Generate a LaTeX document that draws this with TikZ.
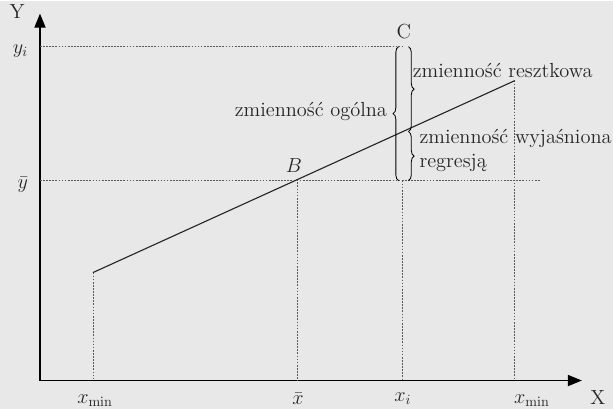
\documentclass[tikz,border=0pt]{standalone}
\usetikzlibrary{arrows.meta, decorations.pathreplacing}
\begin{document}
\begin{tikzpicture}[x=0.025cm, y=-0.025cm,
    axis/.style={{Triangle[length=10pt,width=8pt]}-{Triangle[length=10pt,width=8pt]}, thick},
    guide/.style={dash pattern=on 1.2pt off 1pt, semithick, black!65},
    fitline/.style={thick, black!85},
    vbrace/.style={decorate, decoration={brace, amplitude=4pt}, semithick},
    every node/.style={font=\fontsize{14.5}{17}\selectfont, text=black!85}
  ]
  % paper
  \fill[black!9] (0,0) rectangle (613,408);

  % axes
  \coordinate (O) at (40,380);
  \coordinate (Ytip) at (40,13);
  \coordinate (Xtip) at (582,380);
  \draw[axis] (Ytip) -- (O) -- (Xtip);
  \node (Ylab) at (17,11) {Y};
  \node (Xlab) at (598,397) {X};

  % points on the line and the levels
  \coordinate (P0) at (93,272);
  \coordinate (P1) at (515,80);
  \coordinate (B) at (298,178.7);
  \coordinate (R) at (403,131);
  \coordinate (C) at (403,46);
  \coordinate (Ybar) at (403,180);
  \coordinate (yiA) at (40,46);
  \coordinate (ybA) at (40,180);
  \coordinate (ybE) at (540,180);

  % dotted guides
  \draw[guide] (yiA) -- (C);
  \draw[guide] (ybA) -- (ybE);
  \draw[guide] (P0) -- (P0 |- O);
  \draw[guide] (B) -- (B |- O);
  \draw[guide] (Ybar) -- (Ybar |- O);
  \draw[guide] (P1) -- (P1 |- O);

  % regression line
  \draw[fitline] (P0) -- (P1);

  % braces
  \draw[vbrace] ([xshift=-3]Ybar) -- ([xshift=-3]C);
  \draw[vbrace] ([xshift=4]C) -- ([xshift=4]R);
  \draw[vbrace] ([xshift=4]R) -- ([xshift=4]Ybar);

  % labels
  \node (Clab) at (404,31) {C};
  \node (Blab) at (294,165) {$B$};
  \node[left] (yilab) at (33,50) {$y_i$};
  \node[left] (yblab) at (33,184) {$\bar{y}$};
  \node (xmin) at (95,400) {$x_{\min}$};
  \node (xbar) at (298,398) {$\bar{x}$};
  \node (xi) at (403,398) {$x_i$};
  \node (xmax) at (532,400) {$x_{\min}$};
  \node[anchor=east] (total) at (392,111) {zmienność ogólna};
  \node[anchor=west] (resid) at (408,70) {zmienność resztkowa};
  \node[anchor=west, align=left, inner sep=1pt] (expl) at (418,150) {zmienność wyjaśniona\\regresją};
\end{tikzpicture}
\end{document}
